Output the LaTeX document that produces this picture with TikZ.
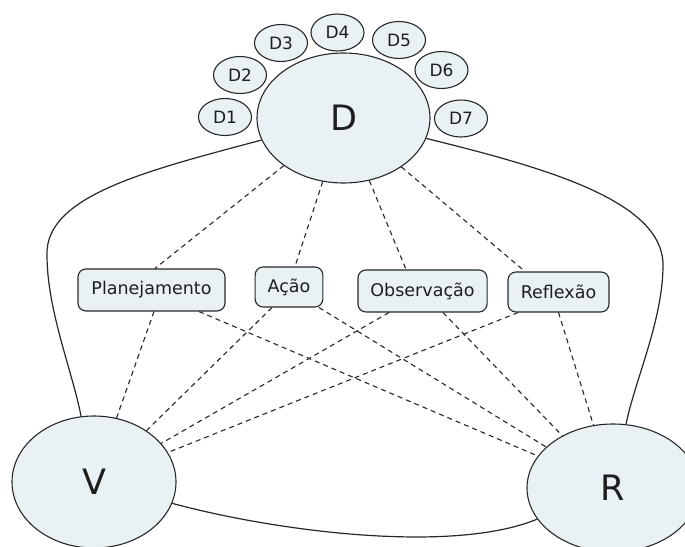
\documentclass[tikz,border=0pt]{standalone}
\usepackage{fontspec}
\setmainfont{DejaVu Sans}
\usetikzlibrary{shapes.geometric}
\definecolor{nodefill}{RGB}{234,241,244}
\definecolor{edgecol}{RGB}{40,40,40}
\definecolor{txt}{RGB}{30,30,30}
\tikzset{
  big/.style={ellipse,draw=edgecol,line width=1.1pt,fill=nodefill,text=txt,font=\fontsize{35}{40}\selectfont,inner sep=0pt},
  small/.style={ellipse,draw=edgecol,line width=1.1pt,fill=nodefill,text=txt,font=\fontsize{17}{20}\selectfont,minimum width=53pt,minimum height=37pt,inner sep=0pt},
  phase/.style={rectangle,rounded corners=8pt,draw=edgecol,line width=1.1pt,fill=nodefill,text=txt,font=\fontsize{17.5}{20}\selectfont,inner xsep=12.5pt,minimum height=42pt,inner ysep=0pt},
  dashlink/.style={draw=edgecol,line width=1.1pt,dash pattern=on 5pt off 4pt},
  solidlink/.style={draw=edgecol,line width=1.2pt}
}
\begin{document}
\begin{tikzpicture}[x=1pt,y=-1pt]
\useasboundingbox (0,0) rectangle (685,546);
\clip (0,0) rectangle (685,546);
\fill[white] (0,0) rectangle (685,546);
% main nodes
\node[big,minimum width=173pt,minimum height=130pt] (D) at (343.5,118) {D};
\node[big,minimum width=164pt,minimum height=132pt] (V) at (94,482) {V};
\node[big,minimum width=172pt,minimum height=128pt] (R) at (613,488) {R};
% satellites
\node[small] (D1) at (225,117) {D1};
\node[small] (D2) at (240,75) {D2};
\node[small] (D3) at (281,43) {D3};
\node[small] (D4) at (337.5,32.5) {D4};
\node[small] (D5) at (399,40) {D5};
\node[small] (D6) at (441.5,70) {D6};
\node[small] (D7) at (461,118.5) {D7};
% phases
\node[phase,minimum width=147pt] (plan) at (151.5,290) {Planejamento};
\node[phase,minimum width=66pt,minimum height=40pt] (acao) at (289,287) {Ação};
\node[phase,minimum width=129pt] (obs) at (422.5,291) {Observação};
\node[phase,minimum width=101pt,minimum height=40pt] (refl) at (558.5,292) {Reflexão};
% dashed links from D
\draw[dashlink] (D) -- ([xshift=3.5pt]plan.north);
\draw[dashlink] (D) -- ([xshift=6pt]acao.north);
\draw[dashlink] (D) -- ([xshift=-16.5pt]obs.north);
\draw[dashlink] (D) -- ([xshift=-33.5pt]refl.north);
% dashed links to V
\draw[dashlink] ([xshift=2.5pt]plan.south) -- (V);
\draw[dashlink] ([xshift=-17pt]acao.south) -- (V);
\draw[dashlink] ([xshift=-33.5pt]obs.south) -- (V);
\draw[dashlink] ([xshift=-40.5pt]refl.south) -- (V);
% dashed links to R
\draw[dashlink] ([xshift=47.5pt]plan.south) -- (R);
\draw[dashlink] ([xshift=30pt]acao.south) -- (R);
\draw[dashlink] ([xshift=20.5pt]obs.south) -- (R);
\draw[dashlink] ([xshift=0pt]refl.south) -- (R);
% solid curves
\draw[solidlink] (D) .. controls (150,170) and (45,195) .. (47,255) .. controls (47,310) and (72,370) .. (V);
\draw[solidlink] (D) .. controls (542,167) and (663,200) .. (663,265) .. controls (663,320) and (635,380) .. (R);
\draw[solidlink] (V) .. controls (270,530) and (450,555) .. (R);
\end{tikzpicture}
\end{document}
